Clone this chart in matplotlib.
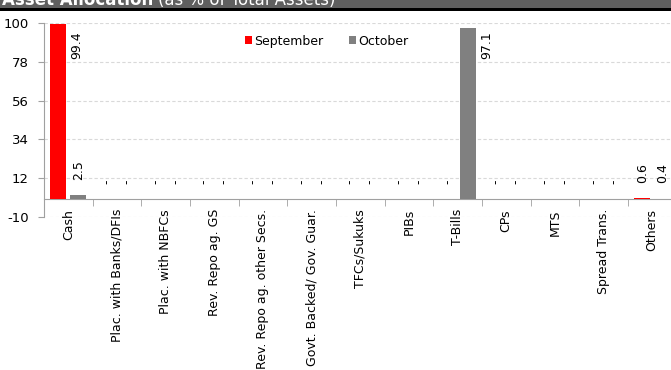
import matplotlib
matplotlib.use("Agg")
import matplotlib.pyplot as plt
import numpy as np

# data
categories = ["Cash", "Plac. with Banks/DFIs", "Plac. with NBFCs", "Rev. Repo ag. GS",
              "Rev. Repo ag. other Secs.", "Govt. Backed/ Gov. Guar.", "TFCs/Sukuks",
              "PIBs", "T-Bills", "CPs", "MTS", "Spread Trans.", "Others"]
september = [99.4, 0, 0, 0, 0, 0, 0, 0, 0, 0, 0, 0, 0.6]
october = [2.5, 0, 0, 0, 0, 0, 0, 0, 97.1, 0, 0, 0, 0.4]
yticks = [-10, 12, 34, 56, 78, 100]

plt.rcParams['font.family'] = ['DejaVu Sans']
plt.rcParams['axes.unicode_minus'] = False

fig = plt.figure(figsize=(6.71, 3.70), dpi=100)
ax = fig.add_axes([44 / 671, 1 - 217 / 370, (676.5 - 44) / 671, (217 - 23) / 370])

x = np.arange(len(categories))
w = 0.33
off = 0.205
ax.bar(x - off, september, w, color='#FF0000', label='September', zorder=3)
ax.bar(x + off, october, w, color='#808080', label='October', zorder=3)

# data labels
def put_labels(xs, vals):
    for xi, v in zip(xs, vals):
        txt = "-" if v == 0 else f"{v:.1f}"
        if v > 90:
            ax.annotate(txt, (xi, 100), xytext=(13.5, -6), textcoords='offset points',
                        rotation=90, ha='center', va='top', fontsize=9)
        else:
            ax.annotate(txt, (xi, v), xytext=(0, 11), textcoords='offset points',
                        rotation=90, ha='center', va='bottom', fontsize=9)

put_labels(x - off, september)
put_labels(x + off, october)

ax.set_xlim(-0.5, len(categories) - 0.5)
ax.set_ylim(-10, 100)
ax.set_yticks(yticks)
ax.yaxis.grid(True, color='#D9D9D9', linestyle=(0, (3, 2)), linewidth=0.8, zorder=0)

ax.spines['top'].set_visible(False)
ax.spines['right'].set_visible(False)
ax.spines['bottom'].set_position(('data', 0))
ax.spines['bottom'].set_color('#A0A0A0')
ax.spines['left'].set_color('#A0A0A0')

ax.set_xticks(x)
ax.set_xticklabels(categories, rotation=90, fontsize=9)
ax.set_xticks(np.arange(len(categories) + 1) - 0.5, minor=True)
ax.tick_params(axis='x', which='major', length=0, pad=7)
ax.tick_params(axis='x', which='minor', length=5, color='#A0A0A0', direction='out')
ax.tick_params(axis='y', length=4, color='#A0A0A0', labelsize=9.5, pad=7)

ax.legend(loc='upper center', bbox_to_anchor=(0.447, 0.965), ncol=2, frameon=False,
          fontsize=9, handlelength=0.6, handleheight=0.6, handletextpad=0.2,
          columnspacing=2.0, borderaxespad=0)

# title bar cut at top
fig.patches.append(plt.Rectangle((0, 1 - 8.5 / 370), 1, 8.5 / 370, transform=fig.transFigure,
                                 facecolor='#5F5F5F', edgecolor='none'))
fig.patches.append(plt.Rectangle((0, 1 - 11 / 370), 1, 2.5 / 370, transform=fig.transFigure,
                                 facecolor='#000000', edgecolor='none'))
fig.text(2 / 671, 1 - 5 / 370, "Asset Allocation ", color='white', fontsize=12,
         fontweight='bold', va='baseline', ha='left')
fig.text(158 / 671, 1 - 5 / 370, "(as % of Total Assets)", color='white', fontsize=12,
         va='baseline', ha='left')

fig.savefig("out.png", dpi=100)
